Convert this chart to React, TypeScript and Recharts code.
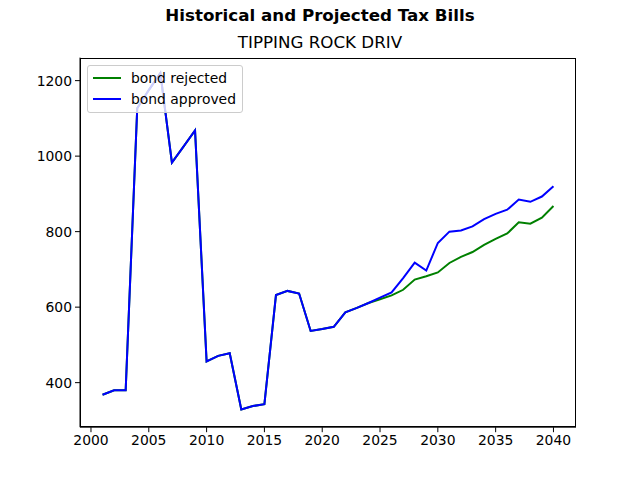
import React from 'react';
import { LineChart, Line, XAxis, YAxis } from 'recharts';

const years = [
  2001, 2002, 2003, 2004, 2005, 2006, 2007, 2008, 2009, 2010,
  2011, 2012, 2013, 2014, 2015, 2016, 2017, 2018, 2019, 2020,
  2021, 2022, 2023, 2024, 2025, 2026, 2027, 2028, 2029, 2030,
  2031, 2032, 2033, 2034, 2035, 2036, 2037, 2038, 2039, 2040,
];

const bondRejected = [
  368, 380, 380, 1127, 1175, 1220, 983, 1025, 1068, 456,
  471, 478, 329, 338, 343, 632, 643, 636, 537, 542,
  548, 586, 598, 611, 621, 631, 646, 673, 682, 692,
  717, 733, 746, 765, 781, 795, 825, 821, 837, 868,
];

const bondApproved = [
  368, 380, 380, 1127, 1175, 1220, 983, 1025, 1068, 456,
  471, 478, 329, 338, 343, 632, 643, 636, 537, 542,
  548, 586, 598, 611, 625, 639, 677, 718, 697, 770,
  800, 803, 814, 833, 847, 858, 885, 879, 893, 920,
];

const xTicks = [2000, 2005, 2010, 2015, 2020, 2025, 2030, 2035, 2040];
const yTicks = [400, 600, 800, 1000, 1200];

const seriesNames = ['bond rejected', 'bond approved'];
const seriesColors = ['#008000', '#0000ff'];

const data = years.map((year, i) => ({
  year,
  rejected: bondRejected[i],
  approved: bondApproved[i],
}));

const font = '"DejaVu Sans", sans-serif';

// matplotlib-style legend box, drawn over the plot with 0.8 alpha
function LegendBox() {
  return (
    <div
      style={{
        position: 'absolute', left: 87, top: 65, zIndex: 5,
        background: 'rgba(255,255,255,0.8)',
        border: '1px solid #cccccc',
        borderRadius: 3,
        padding: '2px 6px 3px 5px',
        fontFamily: font,
        fontSize: 13.9,
        color: '#000',
      }}
    >
      {seriesNames.map((name, i) => (
        <div key={name} style={{ display: 'flex', alignItems: 'center', height: 20.5 }}>
          <div style={{ width: 28, height: 2, background: seriesColors[i], marginRight: 10 }} />
          <span>{name}</span>
        </div>
      ))}
    </div>
  );
}

export default function App() {
  return (
    <div style={{ position: 'absolute', left: 0, top: 0, width: 640, height: 480, background: '#fff' }}>
      <div
        style={{
          position: 'absolute', left: 0, top: 5, width: 640, textAlign: 'center',
          fontFamily: font, fontWeight: 'bold', fontSize: 16.7, color: '#000',
        }}
      >
        Historical and Projected Tax Bills
      </div>
      <div
        style={{
          position: 'absolute', left: 0, top: 32, width: 640, textAlign: 'center',
          fontFamily: font, fontSize: 16.7, color: '#000',
        }}
      >
        TIPPING ROCK DRIV
      </div>
      <LineChart
        width={640}
        height={480}
        data={data}
        margin={{ top: 57.6, right: 64, bottom: 0, left: 0 }}
      >
        <XAxis
          dataKey="year"
          type="number"
          domain={[1999.05, 2041.95]}
          ticks={xTicks}
          allowDataOverflow
          height={52.8}
          tickSize={5}
          tickMargin={3}
          stroke="#000"
          tick={{ fill: '#000', fontSize: 13.9, fontFamily: font }}
        />
        <YAxis
          type="number"
          domain={[282, 1261]}
          ticks={yTicks}
          allowDataOverflow
          width={80}
          tickSize={5}
          tickMargin={3}
          stroke="#000"
          tick={{ fill: '#000', fontSize: 13.9, fontFamily: font }}
        />
        <Line
          dataKey="rejected"
          name={seriesNames[0]}
          stroke={seriesColors[0]}
          strokeWidth={2}
          dot={false}
          type="linear"
          isAnimationActive={false}
        />
        <Line
          dataKey="approved"
          name={seriesNames[1]}
          stroke={seriesColors[1]}
          strokeWidth={2}
          dot={false}
          type="linear"
          isAnimationActive={false}
        />
      </LineChart>
      <div
        style={{
          position: 'absolute', left: 80, top: 57.6, width: 496, height: 369.6,
          border: '1px solid #000', boxSizing: 'border-box', pointerEvents: 'none',
        }}
      />
      <LegendBox />
    </div>
  );
}
